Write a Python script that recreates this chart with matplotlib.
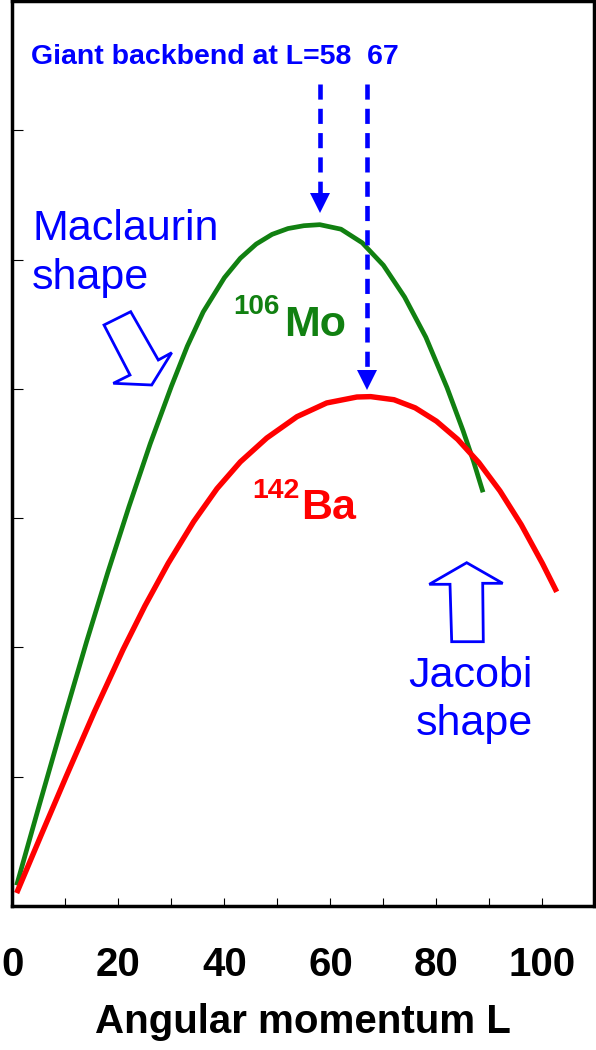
import matplotlib
matplotlib.use("Agg")
import matplotlib.pyplot as plt
from matplotlib.patches import Polygon
from matplotlib.ticker import FixedLocator, FixedFormatter

plt.rcParams['font.family'] = ['Liberation Sans', 'DejaVu Sans']

# ---- data ----
L_mo = [0.8, 5, 10, 14, 18, 22, 26, 30, 33, 36, 40, 43, 46, 49, 52, 55, 58,
        62, 66, 70, 74, 78, 82, 85, 87, 88.8]
y_mo = [0.16, 0.77, 1.485, 2.045, 2.58, 3.09, 3.575, 4.02, 4.33, 4.595, 4.86,
        5.01, 5.12, 5.195, 5.24, 5.262, 5.27, 5.235, 5.13, 4.956, 4.71, 4.40,
        4.01, 3.68, 3.44, 3.20]

L_ba = [0.8, 5.5, 10.2, 15.5, 20.9, 25, 29.4, 34.2, 38.6, 43, 48, 53.7, 59.3,
        65, 67.6, 72, 76, 80, 84, 88, 92, 96, 100, 102.7]
y_ba = [0.10, 0.556, 1.007, 1.505, 1.985, 2.321, 2.651, 2.973, 3.228, 3.435,
        3.62, 3.785, 3.891, 3.937, 3.94, 3.916, 3.853, 3.75, 3.61, 3.43, 3.21,
        2.95, 2.65, 2.43]

backbend_L = [58, 67]          # where the dashed arrows point
backbend_tip = [5.36, 3.99]    # arrow tips just above each maximum
xticks = [0, 10, 20, 30, 40, 50, 60, 70, 80, 90, 100]
xticklabels = ['0', '', '20', '', '40', '', '60', '', '80', '', '100']
yticks = [1, 2, 3, 4, 5, 6]

BLUE = '#0000FF'
GREEN = '#118011'
RED = '#FF0000'

W, H = 596, 1050
fig = plt.figure(figsize=(W / 100, H / 100), dpi=100)


def fp(x, y):
    # pixel position (from top-left) -> figure fraction
    return (x / W, 1 - y / H)


ax = fig.add_axes([12.4 / W, (H - 906) / H, 582 / W, 905 / H])
ax.set_xlim(0, 582 / 5.3)
ax.set_ylim(0, 7)

for s in ax.spines.values():
    s.set_linewidth(2.5)

ax.xaxis.set_major_locator(FixedLocator(xticks))
ax.xaxis.set_major_formatter(FixedFormatter(xticklabels))
ax.set_yticks(yticks)
ax.set_yticklabels([])
ax.tick_params(axis='x', direction='in', length=5.8, width=0.8, pad=28.5,
               labelsize=29)
ax.tick_params(axis='y', direction='in', length=8, width=0.8)
for lab in ax.get_xticklabels():
    lab.set_fontweight('bold')

ax.set_xlabel('Angular momentum L', fontsize=29, fontweight='bold')
ax.xaxis.set_label_coords(0.5, (906 - 1033) / 905)
ax.xaxis.label.set_va('baseline')

# curves
ax.plot(L_mo, y_mo, color=GREEN, lw=3.4, solid_capstyle='butt',
        solid_joinstyle='round')
ax.plot(L_ba, y_ba, color=RED, lw=3.9, solid_capstyle='butt',
        solid_joinstyle='round')

# dashed arrows for the backbends
px_per_unit = 905 / 7
top_val = (906 - 84) / px_per_unit
head = 20 / px_per_unit
for xb, tip in zip(backbend_L, backbend_tip):
    ax.plot([xb, xb], [top_val, tip + head - 0.01], color=BLUE, lw=3.3,
            ls=(0, (3.3, 2.0)), solid_capstyle='butt')
    ax.plot([xb], [tip + head / 2], marker='v', ms=14.4, color=BLUE, mew=0)

# texts
fig.text(*fp(31, 64), 'Giant backbend at L=58  67', color=BLUE,
         fontsize=20.5, fontweight='bold', va='baseline')
fig.text(*fp(32, 240), 'Maclaurin', color=BLUE, fontsize=31, va='baseline')
fig.text(*fp(32, 289), 'shape', color=BLUE, fontsize=31, va='baseline')
fig.text(*fp(470, 686.7), 'Jacobi', color=BLUE, fontsize=31, va='baseline',
         ha='center')
fig.text(*fp(474, 735), 'shape', color=BLUE, fontsize=31, va='baseline',
         ha='center')

fig.text(*fp(233.5, 314.5), '106', color=GREEN, fontsize=20,
         fontweight='bold', va='baseline')
fig.text(*fp(284.5, 336), 'Mo', color=GREEN, fontsize=31,
         fontweight='bold', va='baseline')
fig.text(*fp(252, 498.3), '142', color=RED, fontsize=20.5,
         fontweight='bold', va='baseline')
fig.text(*fp(301, 519.3), 'Ba', color=RED, fontsize=31,
         fontweight='bold', va='baseline')

# hollow block arrows
mac_arrow = [(104, 325), (130.7, 311.7), (158.3, 360), (171.7, 352.7),
             (151.7, 385), (113.3, 383.3), (130, 375)]
jac_arrow = [(466.7, 562.7), (502.7, 583.3), (482.7, 583.3), (483.3, 641.7),
             (451.7, 641.7), (450, 584.3), (429.3, 584.3)]
for pts in (mac_arrow, jac_arrow):
    fig.patches.append(Polygon([fp(x, y) for x, y in pts], closed=True,
                               fill=False, edgecolor=BLUE, lw=2.0,
                               joinstyle='miter', transform=fig.transFigure))

fig.savefig('out.png', dpi=100)
